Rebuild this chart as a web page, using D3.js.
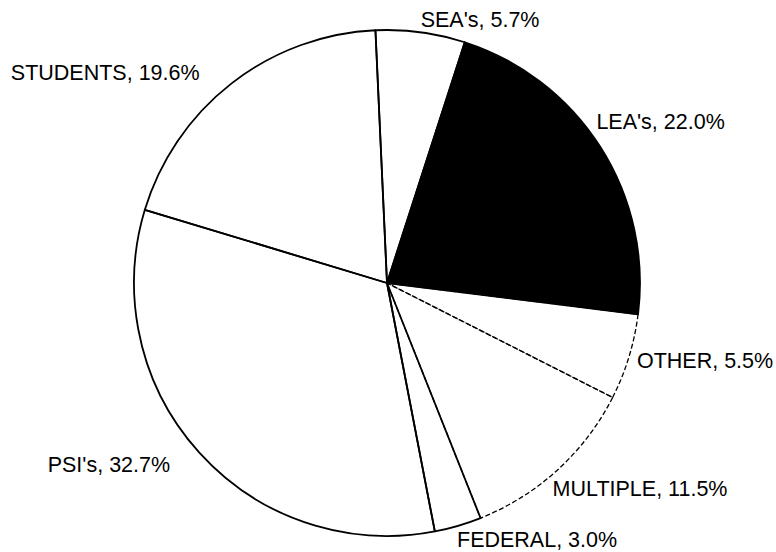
<!DOCTYPE html>
<html>
<head>
<meta charset="utf-8">
<script src="https://cdn.jsdelivr.net/npm/d3@7"></script>
<style>
  html, body { margin: 0; padding: 0; background: #fff; }
  svg { display: block; }
  .label { font-family: "Liberation Sans", Arial, Helvetica, sans-serif; font-size: 21.5px; fill: #000; }
</style>
</head>
<body>
<div id="root"></div>
<script>
const width = 776;
const height = 552;

// slices, clockwise from the black one
const categories = ["LEA's", "OTHER", "MULTIPLE", "FEDERAL", "PSI's", "STUDENTS", "SEA's"];
const percents = [22.0, 5.5, 11.5, 3.0, 32.7, 19.6, 5.7];
const fills = ["#000", "#fff", "#fff", "#fff", "#fff", "#fff", "#fff"];
const dashed = ["OTHER", "MULTIPLE"];

// hand nudges for the labels, relative to the rim point at each slice's middle
const labelNudge = {
    "LEA's": [-4, -18, "start"],
    "OTHER": [8, 11, "start"],
    "MULTIPLE": [-5, 26, "start"],
    "FEDERAL": [-1, 21, "start"],
    "PSI's": [-29, 20, "end"],
    "STUDENTS": [-32, -3, "end"],
    "SEA's": [0, -5, "start"]
};

const cx = 387;
const cy = 283;
const radius = 253;

const data = categories.map((c, i) => ({ name: c, value: percents[i], fill: fills[i] }));

const pie = d3.pie()
    .sort(null)
    .value(d => d.value)
    .startAngle(17.9 * Math.PI / 180)
    .endAngle(17.9 * Math.PI / 180 + 2 * Math.PI);

const arc = d3.arc()
    .innerRadius(0)
    .outerRadius(radius);

const arcs = pie(data);

const svg = d3.select("#root")
    .append("svg")
    .attr("width", width)
    .attr("height", height)
    .attr("viewBox", [0, 0, width, height]);

const g = svg.append("g")
    .attr("transform", `translate(${cx},${cy})`);

// fills
g.selectAll(".slice")
    .data(arcs)
    .join("path")
    .attr("class", "slice")
    .attr("d", arc)
    .attr("fill", d => d.data.fill)
    .attr("stroke", "none");

// outlines: dashed ones first so shared solid edges sit on top
const outlineOrder = arcs.slice().sort((a, b) =>
    (dashed.includes(b.data.name) ? 1 : 0) - (dashed.includes(a.data.name) ? 1 : 0));

g.selectAll(".outline")
    .data(outlineOrder)
    .join("path")
    .attr("class", "outline")
    .attr("d", arc)
    .attr("fill", "none")
    .attr("stroke", "#000")
    .attr("stroke-width", d => dashed.includes(d.data.name) ? 1.3 : 1.8)
    .attr("stroke-dasharray", d => dashed.includes(d.data.name) ? "5,2.5" : null)
    .attr("stroke-linejoin", "round");

// labels
const rim = d3.arc().innerRadius(radius).outerRadius(radius);

g.selectAll(".label")
    .data(arcs)
    .join("text")
    .attr("class", "label")
    .attr("x", d => rim.centroid(d)[0] + labelNudge[d.data.name][0])
    .attr("y", d => rim.centroid(d)[1] + labelNudge[d.data.name][1])
    .attr("text-anchor", d => labelNudge[d.data.name][2])
    .text(d => `${d.data.name}, ${d.data.value.toFixed(1)}%`);
</script>
</body>
</html>
